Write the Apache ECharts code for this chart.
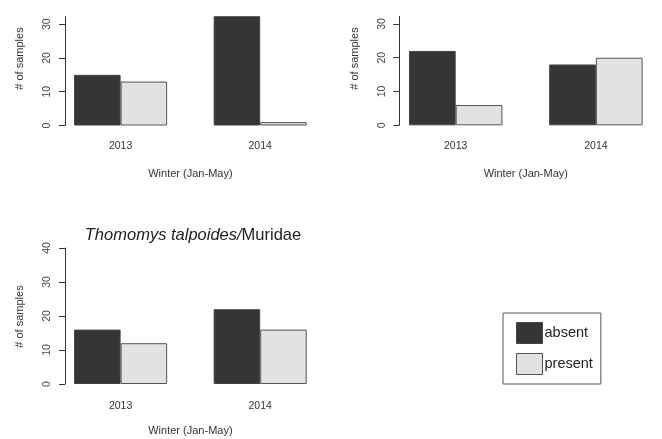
<!DOCTYPE html>
<html>
<head>
<meta charset="utf-8">
<style>
  html, body { margin: 0; padding: 0; background: #fff; }
  #chart { width: 662px; height: 439px; }
</style>
<script src="https://cdn.jsdelivr.net/npm/echarts@6/dist/echarts.min.js"></script>
</head>
<body>
<div id="chart"></div>
<script>
// Sample counts per winter season, three panels
const categories = ['2013', '2014'];
const seriesNames = ['absent', 'present'];

const panelA_absent = [15, 35];
const panelA_present = [13, 1];

const panelB_absent = [22, 18];
const panelB_present = [6, 20];

const panelC_absent = [16, 22];
const panelC_present = [12, 16];

const ticksTop = [0, 10, 20, 30];
const ticksBottom = [0, 10, 20, 30, 40];

const xName = 'Winter (Jan-May)';
const yName = '# of samples';
const panelTitle = '{i|Thomomys talpoides/}{r|Muridae}';

const FONT = "'Liberation Sans', Arial, sans-serif";
const TEXT = '#333';
const FILL_ABSENT = '#353535';
const FILL_PRESENT = '#e2e2e2';

const grids = [
  { left: 50.8, top: 16.7, width: 279.2, height: 108.8 },
  { left: 385.6, top: 16.5, width: 280.4, height: 108.8 },
  { left: 50.8, top: 248, width: 279.2, height: 136 }
].map(g => Object.assign({ containLabel: false, outerBoundsMode: 'none' }, g));

function xAxisFor(i, labelMargin, nameGap) {
  return {
    type: 'category',
    gridIndex: i,
    data: categories,
    axisLine: { show: false },
    axisTick: { show: false },
    axisLabel: { fontSize: 10.5, fontFamily: FONT, color: TEXT, margin: labelMargin },
    name: xName,
    nameLocation: 'middle',
    nameGap: nameGap,
    nameTextStyle: { fontSize: 11, fontFamily: FONT, color: TEXT }
  };
}

function yAxisFor(i, max, ticks, offset) {
  return {
    type: 'value',
    gridIndex: i,
    min: 0,
    max: max,
    offset: offset,
    axisLine: { show: true, lineStyle: { color: '#333', width: 1 } },
    axisTick: { show: true, length: 6, customValues: ticks, lineStyle: { color: '#333' } },
    axisLabel: {
      customValues: ticks,
      rotate: 90,
      fontSize: 10.5,
      fontFamily: FONT,
      color: '#444',
      margin: 12
    },
    splitLine: { show: false }
  };
}

function barPair(i, absent, present) {
  const common = {
    type: 'bar',
    xAxisIndex: i,
    yAxisIndex: i,
    barGap: '0%',
    barCategoryGap: '33.333%',
    clip: true,
    animation: false
  };
  return [
    Object.assign({}, common, {
      name: seriesNames[0],
      data: absent,
      itemStyle: { color: FILL_ABSENT, borderColor: '#444', borderWidth: 1 }
    }),
    Object.assign({}, common, {
      name: seriesNames[1],
      data: present,
      itemStyle: { color: FILL_PRESENT, borderColor: '#555', borderWidth: 1 }
    })
  ];
}

function yNameText(x, y) {
  return {
    type: 'text',
    x: x,
    y: y,
    rotation: Math.PI / 2,
    style: {
      text: yName,
      fontSize: 11,
      fontFamily: FONT,
      fill: TEXT,
      align: 'center',
      verticalAlign: 'middle',
      textAlign: 'center',
      textVerticalAlign: 'middle'
    }
  };
}

const chart = echarts.init(document.getElementById('chart'), null, { renderer: 'canvas' });

chart.setOption({
  backgroundColor: '#ffffff',
  animation: false,
  grid: grids,
  xAxis: [
    xAxisFor(0, 15, 43),
    xAxisFor(1, 15, 43),
    xAxisFor(2, 17, 41)
  ],
  yAxis: [
    yAxisFor(0, 32.2, ticksTop, -14.2),
    yAxisFor(1, 32.2, ticksTop, -13.7),
    yAxisFor(2, 40, ticksBottom, -14.2)
  ],
  series: [].concat(
    barPair(0, panelA_absent, panelA_present),
    barPair(1, panelB_absent, panelB_present),
    barPair(2, panelC_absent, panelC_present)
  ),
  legend: {
    data: seriesNames,
    orient: 'vertical',
    left: 503,
    top: 313,
    icon: 'rect',
    itemWidth: 26,
    itemHeight: 21,
    itemGap: 9,
    padding: [9, 8, 9, 13],
    borderColor: '#555',
    borderWidth: 1,
    borderRadius: 0,
    selectedMode: false,
    itemStyle: { borderWidth: 1 },
    textStyle: { fontSize: 14.5, fontFamily: FONT, color: '#222', padding: [0, 0, 0, -3] }
  },
  graphic: [
    yNameText(20, 58.5),
    yNameText(355, 58.5),
    yNameText(20, 316.5),
    {
      type: 'text',
      x: 193,
      y: 235,
      style: {
        text: panelTitle,
        fontSize: 16.5,
        fontFamily: FONT,
        fill: '#222',
        align: 'center',
        verticalAlign: 'middle',
        textAlign: 'center',
        textVerticalAlign: 'middle',
        rich: {
          i: { fontSize: 16.5, fontFamily: FONT, fontStyle: 'italic', fill: '#222' },
          r: { fontSize: 16.5, fontFamily: FONT, fill: '#222' }
        }
      }
    }
  ]
});
</script>
</body>
</html>
